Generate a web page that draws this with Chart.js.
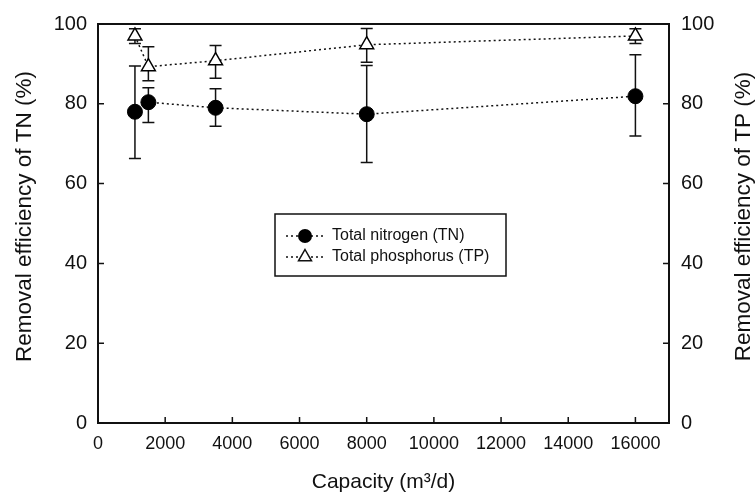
<!DOCTYPE html>
<html>
<head>
<meta charset="utf-8">
<script src="https://cdn.jsdelivr.net/npm/chart.js@4.4.0/dist/chart.umd.min.js"></script>
<style>
  html, body { margin: 0; padding: 0; background: #fff; }
  #wrap { width: 755px; height: 495px; }
</style>
</head>
<body>
<div id="wrap"><canvas id="myChart"></canvas></div>
<script>
// data
const capacity = [1100, 1500, 3500, 8000, 16000];
const tnMean = [78.0, 80.4, 79.0, 77.4, 81.9];
const tnLow = [66.3, 75.3, 74.4, 65.3, 71.9];
const tnHigh = [89.5, 84.0, 83.8, 89.6, 92.3];
const tpMean = [97.0, 89.3, 90.8, 94.8, 97.0];
const tpLow = [95.1, 85.8, 86.4, 90.4, 95.1];
const tpHigh = [98.8, 94.3, 94.6, 98.9, 98.8];
const xTicks = [0, 2000, 4000, 6000, 8000, 10000, 12000, 14000, 16000];
const yTicks = [0, 20, 40, 60, 80, 100];

const FONT = "'Liberation Sans', Arial, sans-serif";

function points(values) {
    return capacity.map((c, i) => ({ x: c, y: values[i] }));
}

// error bars, drawn under the markers
const errorBars = {
    id: 'errorBars',
    beforeDatasetsDraw(chart) {
        const ctx = chart.ctx;
        const xs = chart.scales.x;
        [[tnLow, tnHigh, 'y'], [tpLow, tpHigh, 'y2']].forEach(([lo, hi, axis]) => {
            const ys = chart.scales[axis];
            ctx.save();
            ctx.strokeStyle = '#111';
            ctx.lineWidth = 1.5;
            capacity.forEach((c, i) => {
                const px = xs.getPixelForValue(c);
                const y1 = ys.getPixelForValue(lo[i]);
                const y2 = ys.getPixelForValue(hi[i]);
                ctx.beginPath();
                ctx.moveTo(px, y1); ctx.lineTo(px, y2);
                ctx.moveTo(px - 6, y1); ctx.lineTo(px + 6, y1);
                ctx.moveTo(px - 6, y2); ctx.lineTo(px + 6, y2);
                ctx.stroke();
            });
            ctx.restore();
        });
    }
};

// box, inward ticks, axis titles and the legend
const frame = {
    id: 'frame',
    afterDraw(chart) {
        const ctx = chart.ctx;
        const ca = chart.chartArea;
        const xs = chart.scales.x, yl = chart.scales.y, yr = chart.scales.y2;
        ctx.save();
        ctx.strokeStyle = '#111';
        ctx.lineWidth = 2;
        ctx.strokeRect(ca.left, ca.top, ca.right - ca.left, ca.bottom - ca.top);
        ctx.lineWidth = 1.5;
        ctx.beginPath();
        xTicks.forEach(v => {
            const px = xs.getPixelForValue(v);
            ctx.moveTo(px, ca.bottom); ctx.lineTo(px, ca.bottom - 6);
        });
        yTicks.forEach(v => {
            const py = yl.getPixelForValue(v);
            ctx.moveTo(ca.left, py); ctx.lineTo(ca.left + 6, py);
            const pr = yr.getPixelForValue(v);
            ctx.moveTo(ca.right, pr); ctx.lineTo(ca.right - 6, pr);
        });
        ctx.stroke();

        // vertical titles, both reading bottom to top
        ctx.fillStyle = '#111';
        ctx.font = '22.5px ' + FONT;
        ctx.textAlign = 'center';
        ctx.textBaseline = 'middle';
        const midY = (ca.top + ca.bottom) / 2 - 7;
        [[yl.options.title.text, 25], [yr.options.title.text, 744]].forEach(([txt, tx]) => {
            ctx.save();
            ctx.translate(tx, midY);
            ctx.rotate(-Math.PI / 2);
            ctx.fillText(txt, 0, 0);
            ctx.restore();
        });
        ctx.restore();

        // legend
        const lx = ca.left + 177, ly = ca.top + 190, lw = 231, lh = 62;
        ctx.save();
        ctx.strokeStyle = '#111';
        ctx.lineWidth = 1.5;
        ctx.strokeRect(lx, ly, lw, lh);
        ctx.font = '16px ' + FONT;
        ctx.textBaseline = 'middle';
        ctx.fillStyle = '#111';
        chart.data.datasets.forEach((ds, i) => {
            const ey = ly + 22 + i * 21;
            ctx.setLineDash([2, 3]);
            ctx.lineWidth = 1.5;
            ctx.beginPath();
            ctx.moveTo(lx + 11, ey); ctx.lineTo(lx + 50, ey);
            ctx.stroke();
            ctx.setLineDash([]);
            const mx = lx + 30;
            ctx.beginPath();
            if (ds.pointStyle === 'triangle') {
                const r = 7.5;
                ctx.moveTo(mx, ey - r);
                ctx.lineTo(mx + r * 0.866, ey + r * 0.5);
                ctx.lineTo(mx - r * 0.866, ey + r * 0.5);
                ctx.closePath();
                ctx.fillStyle = '#fff';
                ctx.fill();
                ctx.stroke();
            } else {
                ctx.arc(mx, ey, 7, 0, Math.PI * 2);
                ctx.fillStyle = '#000';
                ctx.fill();
            }
            ctx.fillStyle = '#111';
            ctx.fillText(ds.label, lx + 57, ey);
        });
        ctx.restore();
    }
};

const ctx = document.getElementById('myChart').getContext('2d');
const myChart = new Chart(ctx, {
    type: 'line',
    data: {
        datasets: [{
            label: 'Total nitrogen (TN)',
            data: points(tnMean),
            yAxisID: 'y',
            borderColor: '#111',
            borderWidth: 1.5,
            borderDash: [2, 3],
            pointStyle: 'circle',
            pointRadius: 7.5,
            pointBackgroundColor: '#000',
            pointBorderColor: '#000',
            pointBorderWidth: 1,
            tension: 0,
            fill: false,
            clip: false
        }, {
            label: 'Total phosphorus (TP)',
            data: points(tpMean),
            yAxisID: 'y2',
            borderColor: '#111',
            borderWidth: 1.5,
            borderDash: [2, 3],
            pointStyle: 'triangle',
            pointRadius: 8,
            pointBackgroundColor: '#fff',
            pointBorderColor: '#000',
            pointBorderWidth: 1.5,
            tension: 0,
            fill: false,
            clip: false
        }]
    },
    options: {
        responsive: true,
        maintainAspectRatio: false,
        animation: false,
        layout: { padding: { top: 21, left: 0, right: 0, bottom: 0 } },
        plugins: {
            legend: { display: false },
            tooltip: { enabled: false }
        },
        scales: {
            x: {
                type: 'linear',
                min: 0,
                max: 17000,
                afterBuildTicks: s => { s.ticks = xTicks.map(v => ({ value: v })); },
                afterFit: s => { s.height = 72; },
                grid: { display: false, drawTicks: false },
                border: { display: false },
                ticks: {
                    padding: 10,
                    color: '#111',
                    font: { family: FONT, size: 18 },
                    callback: v => String(v)
                },
                title: {
                    display: true,
                    text: 'Capacity (m³/d)',
                    color: '#111',
                    font: { family: FONT, size: 21 },
                    padding: { top: 0, bottom: 0 }
                }
            },
            y: {
                position: 'left',
                min: 0,
                max: 100,
                afterBuildTicks: s => { s.ticks = yTicks.map(v => ({ value: v })); },
                afterFit: s => { s.width = 98; },
                grid: { display: false, drawTicks: false },
                border: { display: false },
                ticks: { padding: 11, color: '#111', font: { family: FONT, size: 20 } },
                title: { display: false, text: 'Removal efficiency of TN (%)' }
            },
            y2: {
                position: 'right',
                min: 0,
                max: 100,
                afterBuildTicks: s => { s.ticks = yTicks.map(v => ({ value: v })); },
                afterFit: s => { s.width = 86; },
                grid: { display: false, drawTicks: false },
                border: { display: false },
                ticks: { padding: 12, color: '#111', font: { family: FONT, size: 20 } },
                title: { display: false, text: 'Removal efficiency of TP (%)' }
            }
        }
    },
    plugins: [errorBars, frame]
});
</script>
</body>
</html>
